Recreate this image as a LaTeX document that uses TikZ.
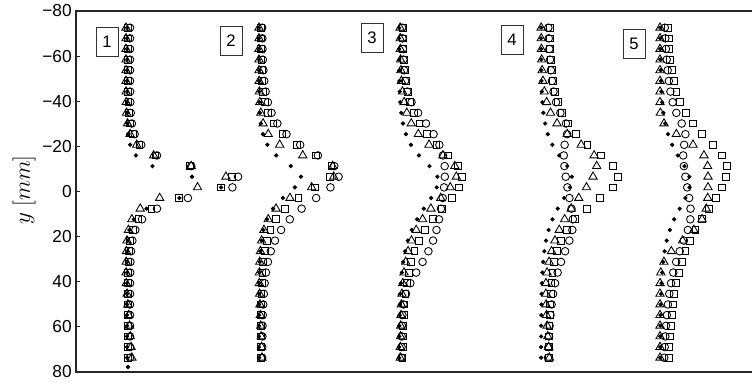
\documentclass[tikz,border=0pt]{standalone}
\usepackage{fontspec}
\setsansfont{Liberation Sans}
\usetikzlibrary{plotmarks}
\tikzset{
  axisline/.style={line width=1.3pt, black!85},
  mk/.style={only marks, line width=0.65pt},
  dotmk/.style={mk, mark=*, mark size=1.25pt, mark options={fill=black}},
  circmk/.style={mk, mark=o, mark size=2.85pt},
  sqmk/.style={mk, mark=square, mark size=2.55pt},
  trimk/.style={mk, mark=triangle, mark size=3.6pt},
  numbox/.style={draw=black!80, line width=0.6pt, font=\sffamily\fontsize{12.5}{14}\selectfont,
    minimum width=16.5pt, minimum height=22pt, inner sep=0pt},
  ticklabel/.style={anchor=east, inner sep=0pt, font=\sffamily\fontsize{13}{15}\selectfont}
}
% one series of markers, one per measuring row
\newcommand{\series}[2]{\draw[#1] plot[domain=0:31, samples=32] ({#2},{row(\x)});}

\begin{document}
\begin{tikzpicture}[x=0.75pt, y=-0.75pt,
  declare function={
    row(\k)=27.7+10.645*\k;
    hump(\ya,\yc,\sa,\sb)=1/cosh(min(abs(\ya-\yc)/ifthenelse(\ya<\yc,\sa,\sb),9));
    flat(\ya,\yc,\sa,\sb)=exp(-min(min(abs(\ya-\yc)/ifthenelse(\ya<\yc,\sa,\sb),3)^4,9));
  }]
\useasboundingbox (0,0) rectangle (752,383);

% axes
\draw[axisline] (752,11) -- (76,11) -- (76,372) -- (752,372);
\foreach \v [count=\i from 0] in {−80,−60,−40,−20,0,20,40,60,80}{
  \draw[axisline, line width=0.6pt] (76,11+45.125*\i) -- ++(4,0);
  \node[ticklabel] (tick\i) at (72,11+45.125*\i) {\v};
}
\node[rotate=90, font=\fontsize{19}{22}\selectfont] (ylab) at (24,190) {$y\;[mm]$};

% profile 1
\series{dotmk}{127+95*hump(row(\x),186,10,10)}
\series{circmk}{130+115*hump(row(\x),181,12,13)}
\series{sqmk}{128+108*hump(row(\x),180,12,13)}
\series{trimk}{126+100*hump(row(\x),177,11,12)+6*max(0,row(\x)-280)/80}
\draw[dotmk] plot coordinates {(128,367)};

% profile 2
\series{dotmk}{259+42*hump(row(\x),177,14,18)}
\series{circmk}{262+77*hump(row(\x),174,22,27)}
\series{sqmk}{261+72*hump(row(\x),170,19,22)}
\series{trimk}{259+79*hump(row(\x),171,13,17)+3*max(0,row(\x)-280)/80}

% profile 3
\series{dotmk}{399+39*hump(row(\x),180,19,28)}
\series{circmk}{401+30*flat(row(\x),190,75,85)+14*hump(row(\x),170,45,45)}
\series{sqmk}{402+60*hump(row(\x),177,28,33)}
\series{trimk}{400+57*hump(row(\x),172,21,30)}

% profile 4
\series{dotmk}{541+31*hump(row(\x),178,20,25)}
\series{circmk}{546+16*hump(row(\x),185,60,60)+10*hump(row(\x),128,12,12)+14*hump(row(\x),228,25,25)}
\series{sqmk}{549+69*hump(row(\x),177,27,26)}
\series{trimk}{541+56*hump(row(\x),162,20,38)+8*max(0,row(\x)-280)/80}

% profile 5
\series{dotmk}{660+30*hump(row(\x),182,24,27)}
\series{circmk}{662+19*hump(row(\x),185,60,60)+9*hump(row(\x),132,12,12)+12*hump(row(\x),220,25,25)}
\series{sqmk}{667+60*hump(row(\x),168,30,45)}
\series{trimk}{660+48*flat(row(\x),180,45,65)}

% profile numbers
\node[numbox] (box1) at (107,42) {1};
\node[numbox] (box2) at (231,41) {2};
\node[numbox] (box3) at (372,38) {3};
\node[numbox] (box4) at (512,40) {4};
\node[numbox] (box5) at (634,44) {5};
\end{tikzpicture}
\end{document}
